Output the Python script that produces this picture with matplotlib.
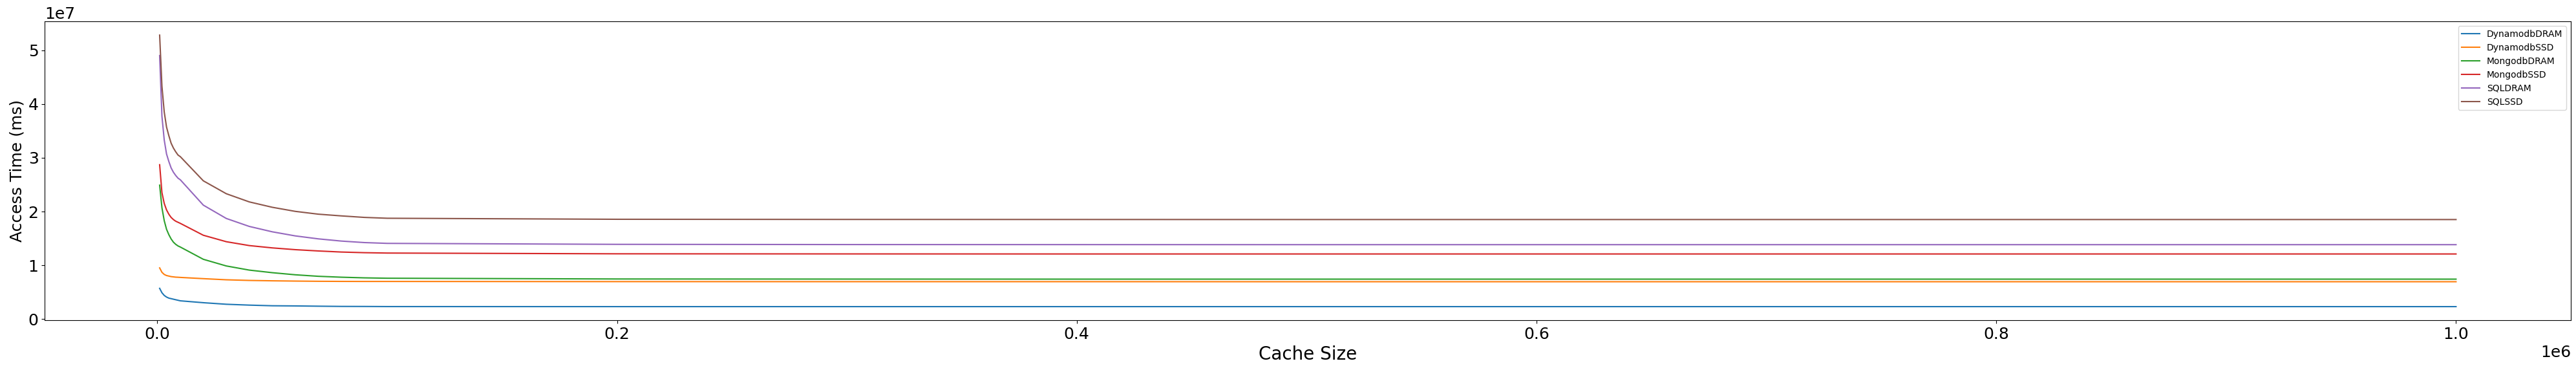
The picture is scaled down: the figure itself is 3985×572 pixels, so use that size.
#!/usr/bin/env python

import numpy as np
import matplotlib
matplotlib.use("Agg")
import matplotlib.pylab as plt

# cache sizes
cacheSize = [1000, 2000, 3000, 4000, 5000, 6000, 7000, 8000, 9000, 10000,
             20000, 30000, 40000, 50000, 60000, 70000, 80000, 90000, 100000,
             200000, 300000, 400000, 500000, 600000, 700000, 800000, 900000, 1000000]

# access times (ms)
dynamodbDRAM = [5.72e6, 4.90e6, 4.40e6, 4.10e6, 3.90e6, 3.80e6, 3.70e6, 3.60e6, 3.50e6, 3.40e6,
                3.05e6, 2.76e6, 2.60e6, 2.48e6, 2.45e6, 2.40e6, 2.36e6, 2.35e6, 2.33e6,
                2.32e6, 2.32e6, 2.32e6, 2.32e6, 2.32e6, 2.32e6, 2.32e6, 2.32e6, 2.32e6]
dynamodbSSD = [9.52e6, 8.70e6, 8.30e6, 8.10e6, 8.00e6, 7.90e6, 7.85e6, 7.80e6, 7.78e6, 7.75e6,
               7.52e6, 7.31e6, 7.19e6, 7.12e6, 7.07e6, 7.03e6, 7.01e6, 7.00e6, 7.00e6,
               6.97e6, 6.96e6, 6.96e6, 6.95e6, 6.95e6, 6.95e6, 6.95e6, 6.95e6, 6.95e6]
mongodbDRAM = [2.49e7, 2.07e7, 1.83e7, 1.67e7, 1.57e7, 1.49e7, 1.43e7, 1.39e7, 1.36e7, 1.34e7,
               1.112e7, 9.88e6, 9.11e6, 8.63e6, 8.24e6, 7.96e6, 7.79e6, 7.67e6, 7.60e6,
               7.46e6, 7.44e6, 7.43e6, 7.43e6, 7.43e6, 7.43e6, 7.43e6, 7.43e6, 7.43e6]
mongodbSSD = [2.87e7, 2.35e7, 2.15e7, 2.03e7, 1.95e7, 1.89e7, 1.85e7, 1.82e7, 1.80e7, 1.78e7,
              1.559e7, 1.439e7, 1.367e7, 1.324e7, 1.291e7, 1.267e7, 1.247e7, 1.235e7, 1.228e7,
              1.214e7, 1.212e7, 1.211e7, 1.211e7, 1.211e7, 1.211e7, 1.211e7, 1.211e7, 1.211e7]
sqlDRAM = [4.90e7, 3.77e7, 3.33e7, 3.07e7, 2.93e7, 2.81e7, 2.73e7, 2.67e7, 2.62e7, 2.59e7,
           2.119e7, 1.871e7, 1.723e7, 1.623e7, 1.547e7, 1.492e7, 1.451e7, 1.423e7, 1.408e7,
           1.390e7, 1.386e7, 1.385e7, 1.384e7, 1.384e7, 1.384e7, 1.384e7, 1.384e7, 1.384e7]
sqlSSD = [5.28e7, 4.33e7, 3.85e7, 3.57e7, 3.41e7, 3.27e7, 3.18e7, 3.11e7, 3.05e7, 3.02e7,
          2.571e7, 2.331e7, 2.179e7, 2.079e7, 2.003e7, 1.951e7, 1.919e7, 1.891e7, 1.875e7,
          1.856e7, 1.853e7, 1.852e7, 1.851e7, 1.851e7, 1.851e7, 1.851e7, 1.851e7, 1.851e7]

labels = ["DynamodbDRAM", "DynamodbSSD", "MongodbDRAM", "MongodbSSD", "SQLDRAM", "SQLSSD"]
series = [dynamodbDRAM, dynamodbSSD, mongodbDRAM, mongodbSSD, sqlDRAM, sqlSSD]

tfs = 18  # tick font size

# create figure and axis
fig = plt.figure(figsize=(39.85, 5.72), dpi=100)
ax = fig.add_axes([0.0174, 0.1346, 0.9806, 0.8072])

for vals, lab in zip(series, labels):
    ax.plot(cacheSize, vals, label=lab)

ax.set_xlabel("Cache Size", fontsize=20)
ax.set_ylabel("Access Time (ms)", fontsize=18)
ax.tick_params(axis="both", labelsize=tfs)
ax.xaxis.get_offset_text().set_fontsize(tfs)
ax.yaxis.get_offset_text().set_fontsize(tfs)

ax.legend(loc="upper right")

plt.savefig("out.png", dpi=100)
